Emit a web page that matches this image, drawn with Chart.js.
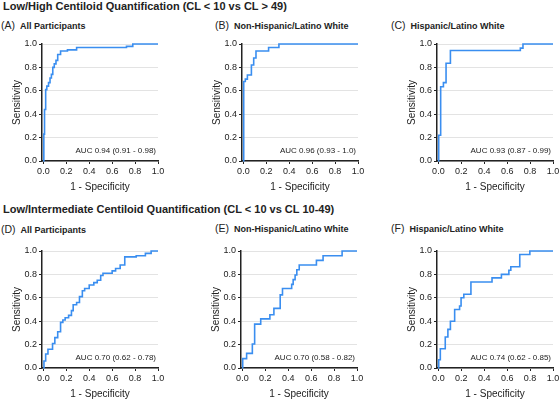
<!DOCTYPE html>
<html>
<head>
<meta charset="utf-8">
<script src="https://cdn.jsdelivr.net/npm/chart.js@4/dist/chart.umd.min.js"></script>
<style>
  body { margin: 0; background: #fff; width: 560px; height: 401px; position: relative; overflow: hidden;
         font-family: "Liberation Sans", Arial, sans-serif; color: #222; }
  .title { position: absolute; left: 3px; font-size: 11px; font-weight: bold; line-height: 12px; white-space: nowrap; }
  .plab { position: absolute; line-height: 12px; white-space: nowrap; }
  .plab span { font-size: 10.5px; margin-right: 5px; }
  .plab b { font-size: 9px; }
  canvas { position: absolute; }
</style>
</head>
<body>
<div class="title" style="top:0px">Low/High Centiloid Quantification (CL &lt; 10 vs CL &gt; 49)</div>
<div class="title" style="top:203px">Low/Intermediate Centiloid Quantification (CL &lt; 10 vs CL 10-49)</div>

<div class="plab" style="left:1px;top:18px"><span>(A)</span><b>All Participants</b></div>
<div class="plab" style="left:215px;top:18px"><span>(B)</span><b>Non-Hispanic/Latino White</b></div>
<div class="plab" style="left:391px;top:18px"><span>(C)</span><b>Hispanic/Latino White</b></div>
<div class="plab" style="left:1px;top:222px"><span>(D)</span><b>All Participants</b></div>
<div class="plab" style="left:215px;top:221px"><span>(E)</span><b>Non-Hispanic/Latino White</b></div>
<div class="plab" style="left:391px;top:221px"><span>(F)</span><b>Hispanic/Latino White</b></div>

<canvas id="chartA" width="169" height="159" style="left:0px;top:34px"></canvas>
<canvas id="chartB" width="169" height="159" style="left:200px;top:34px"></canvas>
<canvas id="chartC" width="169" height="159" style="left:395px;top:34px"></canvas>
<canvas id="chartD" width="169" height="159" style="left:0px;top:241px"></canvas>
<canvas id="chartE" width="169" height="159" style="left:199px;top:241px"></canvas>
<canvas id="chartF" width="169" height="159" style="left:395px;top:241px"></canvas>

<script>
// dados (1 - especificidade, sensibilidade)
const tickValues = [0, 0.2, 0.4, 0.6, 0.8, 1.0];

const fprA = [0, 0.004, 0.01, 0.02, 0.03, 0.045, 0.058, 0.07, 0.082, 0.095, 0.11, 0.125, 0.15, 0.21, 0.29, 0.725, 0.78, 1.0];
const tprA = [0, 0.23, 0.44, 0.61, 0.64, 0.67, 0.71, 0.74, 0.80, 0.83, 0.86, 0.91, 0.94, 0.95, 0.97, 0.98, 1.0, 1.0];

const fprB = [0, 0.003, 0.017, 0.035, 0.07, 0.09, 0.11, 0.22, 0.31, 1.0];
const tprB = [0, 0.68, 0.70, 0.735, 0.82, 0.88, 0.94, 0.97, 1.0, 1.0];

const fprC = [0, 0.003, 0.02, 0.044, 0.067, 0.105, 0.715, 0.738, 1.0];
const tprC = [0, 0.22, 0.635, 0.67, 0.835, 0.945, 0.965, 1.0, 1.0];

const fprD = [0, 0.005, 0.02, 0.04, 0.08, 0.1, 0.125, 0.15, 0.17, 0.19, 0.22, 0.245, 0.26, 0.29, 0.315, 0.34, 0.36, 0.40, 0.44, 0.47, 0.50, 0.52, 0.60, 0.63, 0.67, 0.71, 0.81, 0.89, 0.94, 1.0];
const tprD = [0, 0.06, 0.12, 0.16, 0.21, 0.26, 0.31, 0.39, 0.41, 0.43, 0.45, 0.49, 0.54, 0.56, 0.61, 0.66, 0.68, 0.71, 0.73, 0.75, 0.79, 0.81, 0.83, 0.85, 0.88, 0.95, 0.96, 0.98, 1.0, 1.0];

const fprE = [0, 0.003, 0.037, 0.087, 0.107, 0.16, 0.24, 0.275, 0.33, 0.35, 0.43, 0.443, 0.46, 0.475, 0.496, 0.646, 0.704, 0.87, 1.0];
const tprE = [0, 0.08, 0.125, 0.205, 0.375, 0.42, 0.455, 0.51, 0.625, 0.68, 0.715, 0.755, 0.795, 0.84, 0.88, 0.92, 0.96, 1.0, 1.0];

const fprF = [0, 0.003, 0.017, 0.06, 0.083, 0.105, 0.142, 0.185, 0.198, 0.222, 0.284, 0.468, 0.55, 0.615, 0.632, 0.71, 0.798, 1.0];
const tprF = [0, 0.07, 0.165, 0.265, 0.33, 0.40, 0.50, 0.53, 0.60, 0.63, 0.735, 0.77, 0.80, 0.835, 0.865, 0.97, 1.0, 1.0];

const aucLabels = ['AUC 0.94 (0.91 - 0.98)', 'AUC 0.96 (0.93 - 1.0)', 'AUC 0.93 (0.87 - 0.99)',
                   'AUC 0.70 (0.62 - 0.78)', 'AUC 0.70 (0.58 - 0.82)', 'AUC 0.74 (0.62 - 0.85)'];

const fontFamily = '"Liberation Sans", Arial, sans-serif';

// escreve o texto do AUC no canto inferior direito
const aucPlugin = {
  id: 'aucLabel',
  afterDatasetsDraw(chart, args, opts) {
    const { ctx, chartArea } = chart;
    ctx.save();
    ctx.font = '8px ' + fontFamily;
    ctx.fillStyle = '#222';
    ctx.textAlign = 'right';
    ctx.textBaseline = 'middle';
    ctx.fillText(opts.text, chartArea.right - 2, chartArea.bottom - 10);
    ctx.restore();
  }
};

function makeChart(id, fpr, tpr, auc) {
  const canvas = document.getElementById(id);
  return new Chart(canvas, {
    type: 'line',
    data: {
      datasets: [{
        data: fpr.map((x, i) => ({ x: x, y: tpr[i] })),
        borderColor: '#3a8ef0',
        borderWidth: 1.6,
        pointRadius: 0,
        stepped: 'before',
        fill: false,
        clip: 4
      }]
    },
    options: {
      responsive: false,
      animation: false,
      layout: { padding: { left: 11, top: 10, right: 11, bottom: 0 } },
      plugins: { legend: { display: false }, tooltip: { enabled: false }, aucLabel: { text: auc } },
      scales: {
        x: {
          type: 'linear', min: -0.012, max: 1,
          afterBuildTicks: s => { s.ticks = tickValues.map(v => ({ value: v })); },
          afterFit: s => { s.height = 32; },
          grid: { drawOnChartArea: false, tickLength: 3, tickColor: '#222' },
          border: { color: '#222', width: 1.5 },
          ticks: { font: { size: 9, family: fontFamily }, color: '#222', padding: 2,
                   maxRotation: 0, autoSkip: false, callback: v => v.toFixed(1) },
          title: { display: true, text: '1 - Specificity', color: '#222', padding: 0,
                   font: { size: 10, family: fontFamily } }
        },
        y: {
          type: 'linear', min: 0, max: 1,
          afterBuildTicks: s => { s.ticks = tickValues.map(v => ({ value: v })); },
          afterFit: s => { s.width = 31; },
          grid: { color: '#e3e3e3', tickColor: '#222', tickLength: 3 },
          border: { color: '#222', width: 1.5 },
          ticks: { font: { size: 9, family: fontFamily }, color: '#222', padding: 2,
                   callback: v => v.toFixed(1) },
          title: { display: true, text: 'Sensitivity', color: '#222', padding: 0,
                   font: { size: 10, family: fontFamily } }
        }
      }
    },
    plugins: [aucPlugin]
  });
}

document.addEventListener('DOMContentLoaded', function() {
  makeChart('chartA', fprA, tprA, aucLabels[0]);
  makeChart('chartB', fprB, tprB, aucLabels[1]);
  makeChart('chartC', fprC, tprC, aucLabels[2]);
  makeChart('chartD', fprD, tprD, aucLabels[3]);
  makeChart('chartE', fprE, tprE, aucLabels[4]);
  makeChart('chartF', fprF, tprF, aucLabels[5]);
});
</script>
</body>
</html>
